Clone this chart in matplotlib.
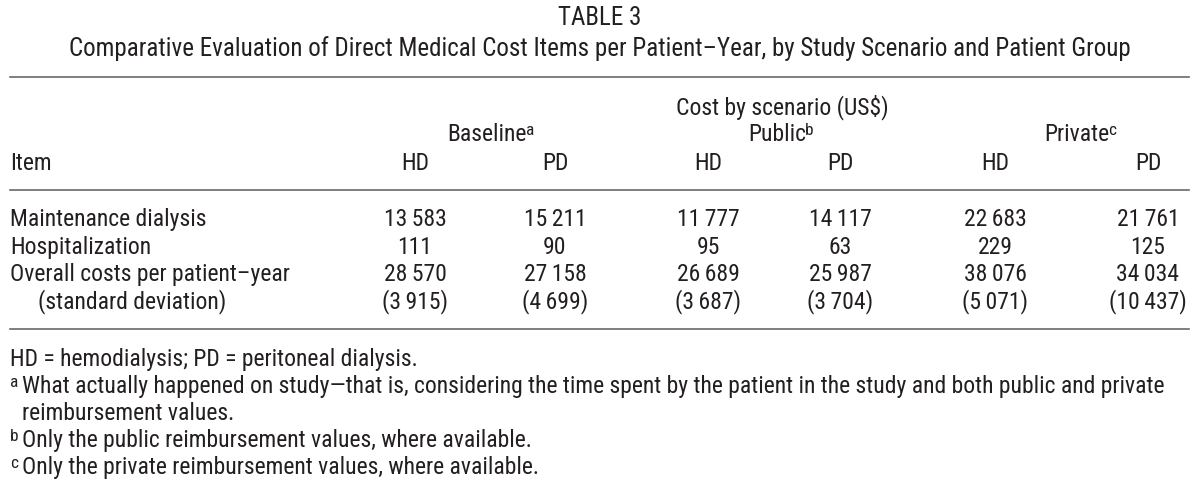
import matplotlib
matplotlib.use("Agg")
import matplotlib.pyplot as plt
from matplotlib import font_manager

# pick a narrow face if there is one
names = {f.name for f in font_manager.fontManager.ttflist}
FONT = "DejaVu Sans"
for cand in ["Liberation Sans Narrow", "Roboto Condensed", "Open Sans Condensed", "Noto Sans", "Roboto"]:
    if cand in names:
        FONT = cand
        break

plt.rcParams["font.family"] = [FONT, "DejaVu Sans"]

# table content
title = "TABLE 3"
subtitle = "Comparative Evaluation of Direct Medical Cost Items per Patient\u2013Year, by Study Scenario and Patient Group"
spanner = "Cost by scenario (US$)"
scenarios = ["Baseline", "Public", "Private"]
scenario_marks = ["a", "b", "c"]
groups = ["HD", "PD"]
items = ["Maintenance dialysis", "Hospitalization", "Overall costs per patient\u2013year", "(standard deviation)"]

baseline_hd = [13583, 111, 28570, 3915]
baseline_pd = [15211, 90, 27158, 4699]
public_hd = [11777, 95, 26689, 3687]
public_pd = [14117, 63, 25987, 3704]
private_hd = [22683, 229, 38076, 5071]
private_pd = [21761, 125, 34034, 10437]

footnotes = [
    ("", "HD = hemodialysis; PD = peritoneal dialysis."),
    ("a", "What actually happened on study\u2014that is, considering the time spent by the patient in the study and both public and private"),
    ("", "reimbursement values."),
    ("b", "Only the public reimbursement values, where available."),
    ("c", "Only the private reimbursement values, where available."),
]

W, H = 1200, 489
fig = plt.figure(figsize=(W / 100, H / 100), dpi=100)
renderer = fig.canvas.get_renderer()
TXT = "#231f20"
LINE = "#6a6a6a"
FS = 17
SUP = 12.5


def put(x, y, s, ha="left", size=FS):
    # y is the baseline, in pixels from the top
    return fig.text(x / W, 1 - y / H, s, ha=ha, va="baseline", fontsize=size, color=TXT)


def sup_after(t, y, mark):
    bb = t.get_window_extent(renderer)
    put(bb.x1 - 1, y - 6, mark, size=SUP)


def hline(y, x0=10, x1=1189):
    fig.add_artist(plt.Line2D([x0 / W, x1 / W], [1 - y / H, 1 - y / H], color=LINE, lw=1.2))


def fmt(v):
    return f"{v:,}".replace(",", "\u2009")


put(600, 25, title, ha="center", size=18)
put(600, 56, subtitle, ha="center", size=18)
hline(78)

put(782, 114, spanner, ha="center")
scen_x = [487, 777, 1077]
for x, s, m in zip(scen_x, scenarios, scenario_marks):
    t = put(x, 141, s, ha="center")
    sup_after(t, 141, m)

col_x = [415, 555, 708, 840, 995, 1148]
put(10, 170, "Item")
for i, x in enumerate(col_x):
    put(x, 170, groups[i % 2], ha="center")
hline(191)

columns = [baseline_hd, baseline_pd, public_hd, public_pd, private_hd, private_pd]
row_y = [226, 254, 281, 308]
for r, (name, y) in enumerate(zip(items, row_y)):
    put(10 if r < 3 else 38, y, name)
    for x, col in zip(col_x, columns):
        s = fmt(col[r])
        if r == 3:
            s = "(" + s + ")"
        put(x, y, s, ha="center")
hline(330)

foot_y = [366, 393, 420, 447, 474]
for (mark, text), y in zip(footnotes, foot_y):
    if mark:
        put(10, y - 6, mark, size=SUP)
        put(22, y, text)
    elif text.startswith("HD"):
        put(10, y, text)
    else:
        put(22, y, text)

fig.savefig("out.png", dpi=100)
